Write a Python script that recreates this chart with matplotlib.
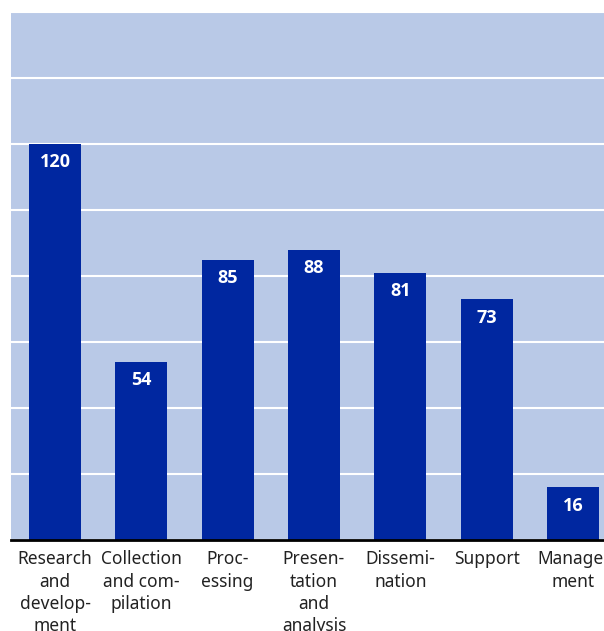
import matplotlib
matplotlib.use("Agg")
import matplotlib.pyplot as plt

categories = ["Research\nand\ndevelop-\nment", "Collection\nand com-\npilation", "Proc-\nessing",
              "Presen-\ntation\nand\nanalysis", "Dissemi-\nnation", "Support", "Manage-\nment"]
values = [120, 54, 85, 88, 81, 73, 16]
yticks = [0, 20, 40, 60, 80, 100, 120, 140, 160]

BG = "#b9c9e7"
BAR = "#0027a0"
TXT = "#222222"

plt.rcParams["font.family"] = ["Noto Sans", "DejaVu Sans"]

W, H = 604, 631
fig = plt.figure(figsize=(W / 100, H / 100), dpi=100)
ax = fig.add_axes([11 / W, 1 - 540 / H, (604 - 11) / W, (540 - 12) / H])
ax.set_facecolor(BG)

x = list(range(len(values)))
ax.bar(x, values, width=0.6, color=BAR, zorder=3)
for xi, v in zip(x, values):
    ax.text(xi, v - 5.6, str(v), ha="center", va="center", color="white",
            fontsize=13, fontweight="bold", family=["Open Sans", "DejaVu Sans"], zorder=4)

ax.set_xlim(-0.51, 6.36)
ax.set_ylim(0, 160)
ax.set_yticks(yticks)
ax.yaxis.grid(True, color="white", lw=1.5, zorder=1)
ax.tick_params(axis="y", left=False, labelleft=False)
ax.tick_params(axis="x", bottom=False, pad=4)
ax.set_xticks(x)
ax.set_xticklabels(categories, fontsize=12.5, color=TXT, linespacing=1.3, va="top")
for s in ["top", "right", "left"]:
    ax.spines[s].set_visible(False)
ax.spines["bottom"].set_color("black")
ax.spines["bottom"].set_linewidth(2)
ax.spines["bottom"].set_zorder(5)

fig.savefig("out.png", dpi=100)
